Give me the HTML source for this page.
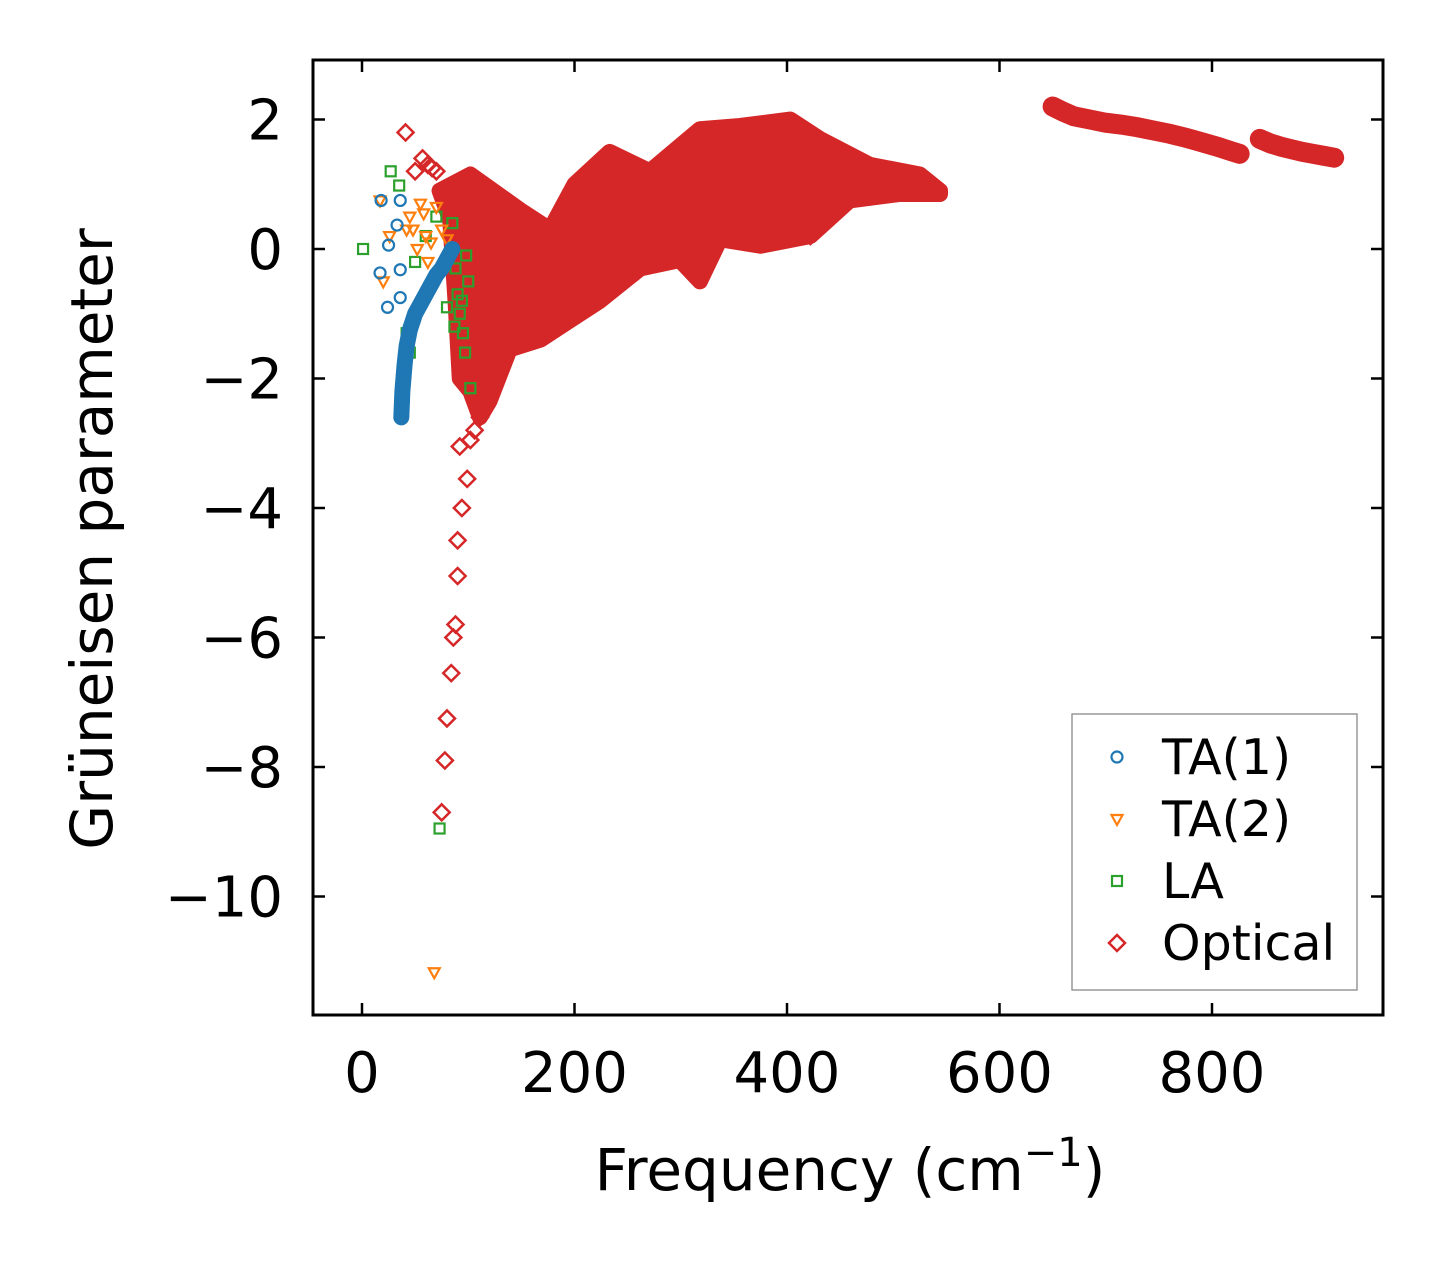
<!DOCTYPE html>
<html><head><meta charset="utf-8"><style>
body{margin:0;background:#fff}
svg text{font-family:"DejaVu Sans","Liberation Sans",sans-serif;fill:#000}
</style></head><body>
<svg id="chart" width="1443" height="1264" xmlns="http://www.w3.org/2000/svg">
<g id="marks"></g>
<g id="axes"></g>
</svg>
<script>
// ---- data ----
const xTicks=[0,200,400,600,800];
const yTicks=[2,0,-2,-4,-6,-8,-10];
const yTickLabels=["2","0","\u22122","\u22124","\u22126","\u22128","\u221210"];
// optical dense cloud envelope (freq, upper gamma, lower gamma)
const cloudUpF=[73,102,149,177,200,233,271,318,356,403,431,478,525,544];
const cloudUpG=[0.9,1.15,0.6,0.3,1.0,1.5,1.2,1.85,1.9,2.0,1.7,1.3,1.15,0.9];
const cloudLoF=[544,506,459,422,375,337,318,299,262,224,196,168,139,120,111,102,92,88,83];
const cloudLoG=[0.85,0.85,0.75,0.2,0.05,0.15,-0.5,-0.17,-0.3,-0.8,-1.1,-1.4,-1.55,-2.35,-2.6,-2.2,-2.0,-0.8,0.45];
// optical high-frequency bands
const band1F=[650,660,670,685,700,715,730,745,760,775,790,805,820,826];
const band1G=[2.2,2.12,2.05,2.0,1.95,1.92,1.88,1.83,1.78,1.72,1.65,1.58,1.5,1.47];
const band2F=[845,855,865,875,885,895,905,915];
const band2G=[1.7,1.63,1.58,1.54,1.5,1.47,1.44,1.41];
// optical sparse points
const optF=[41,57,50,62,66,70,92,102,99,94,90,90,88,86,84,80,78,75,111,106,115,125,420,422,470,318,250];
const optG=[1.8,1.4,1.2,1.3,1.25,1.2,-3.05,-2.95,-3.55,-4.0,-4.5,-5.05,-5.8,-6.0,-6.55,-7.25,-7.9,-8.7,-2.6,-2.8,-2.3,-2.0,1.8,0.2,1.3,-0.4,-0.3];
// TA(1)
const ta1F=[18,36,33,25,17,24,36,36,37,38,40,42,45,50,55,60,65,70,75,80,85,38,40,43];
const ta1G=[0.75,0.75,0.37,0.06,-0.37,-0.9,-0.75,-0.32,-2.6,-2.2,-1.8,-1.5,-1.25,-1.0,-0.85,-0.7,-0.55,-0.4,-0.3,-0.15,0.0,-2.35,-1.9,-1.4];
// TA(2)
const ta2F=[17,20,26,48,55,70,68,45,52,60,65,75,80,58,62,42];
const ta2G=[0.75,-0.5,0.2,0.3,0.7,0.65,-11.17,0.5,0.0,0.2,0.1,0.3,0.15,0.55,-0.2,0.3];
// LA
const laF=[1,27,35,73,102,97,95,92,90,88,85,100,98,94,80,87,45,50,60,70,42];
const laG=[0,1.2,0.98,-8.95,-2.15,-1.6,-1.3,-1.0,-0.7,-0.3,0.4,-0.5,-0.1,-0.8,-0.9,-1.2,-1.6,-0.2,0.2,0.5,-1.3];

// ---- axes mapping ----
const L=313,R=1383,T=60,B=1015;
const xs=f=>362+f*1.0625;
const ys=g=>249-g*64.75;
const NS="http://www.w3.org/2000/svg";
const marks=document.getElementById('marks'),axes=document.getElementById('axes');
function el(tag,attrs,parent){const e=document.createElementNS(NS,tag);for(const k in attrs)e.setAttribute(k,attrs[k]);parent.appendChild(e);return e;}

// cloud
let pts=cloudUpF.map((f,i)=>xs(f)+','+ys(cloudUpG[i])).concat(cloudLoF.map((f,i)=>xs(f)+','+ys(cloudLoG[i])));
const cloud=el('polygon',{points:pts.join(' '),fill:'#d62728',stroke:'#d62728','stroke-width':16,'stroke-linejoin':'round'},marks);



function diamond(f,g,name){const x=xs(f),y=ys(g),s=8;
 const d=el('polygon',{points:`${x},${y-s} ${x+s},${y} ${x},${y+s} ${x-s},${y}`,fill:'none',stroke:'#d62728','stroke-width':2.5},marks);
 
 }
function band(F,G,name){
 const p=el('polyline',{points:F.map((f,i)=>xs(f)+','+ys(G[i])).join(' '),fill:'none',stroke:'#d62728','stroke-width':20,'stroke-linecap':'round'},marks);
 
 
 F.forEach((f,i)=>diamond(f,G[i],'optical-point'));}
band(band1F,band1G,'optical-band-1');
band(band2F,band2G,'optical-band-2');
optF.forEach((f,i)=>diamond(f,optG[i],'optical-point'));

laF.forEach((f,i)=>{const x=xs(f),y=ys(laG[i]);
 const r=el('rect',{x:x-5,y:y-5,width:10,height:10,fill:'none',stroke:'#2ca02c','stroke-width':2.2},marks);
 
 });
ta2F.forEach((f,i)=>{const x=xs(f),y=ys(ta2G[i]);
 const p=el('polygon',{points:`${x-5.5},${y-4} ${x+5.5},${y-4} ${x},${y+6}`,fill:'none',stroke:'#ff7f0e','stroke-width':2.2},marks);
 
 });
// TA1 dense branch stroke
const dense=el('polyline',{points:ta1F.slice(8,21).map((f,i)=>xs(f)+','+ys(ta1G[i+8])).join(' '),fill:'none',stroke:'#1f77b4','stroke-width':16,'stroke-linecap':'round'},marks);


ta1F.forEach((f,i)=>{
 const c=el('circle',{cx:xs(f),cy:ys(ta1G[i]),r:5.5,fill:'none',stroke:'#1f77b4','stroke-width':2.2},marks);
 
 });

// frame
const fr=el('rect',{x:L,y:T,width:R-L,height:B-T,fill:'none',stroke:'#000','stroke-width':3},axes);


xTicks.forEach(v=>{const x=xs(v);
 el('line',{x1:x,x2:x,y1:B,y2:B-12,stroke:'#000','stroke-width':2.5},axes);
 el('line',{x1:x,x2:x,y1:T,y2:T+12,stroke:'#000','stroke-width':2.5},axes);
 const t=el('text',{x:x,y:B+77,'text-anchor':'middle','font-size':56},axes);t.textContent=v;
 
 });
yTicks.forEach((v,i)=>{const y=ys(v);
 el('line',{x1:L,x2:L+12,y1:y,y2:y,stroke:'#000','stroke-width':2.5},axes);
 el('line',{x1:R,x2:R-12,y1:y,y2:y,stroke:'#000','stroke-width':2.5},axes);
 const t=el('text',{x:L-30,y:y+20,'text-anchor':'end','font-size':56},axes);t.textContent=yTickLabels[i];
 
 });
</script>
<svg style="position:absolute;left:0;top:0" width="1443" height="1264" xmlns="http://www.w3.org/2000/svg">
<text x="850" y="1190" text-anchor="middle" font-size="58" font-family="DejaVu Sans, Liberation Sans, sans-serif">Frequency (cm<tspan dy="-24" font-size="40">−1</tspan><tspan dy="24">)</tspan></text>
<text transform="translate(112,539) rotate(-90)" text-anchor="middle" font-size="58" font-family="DejaVu Sans, Liberation Sans, sans-serif">Grüneisen parameter</text>
<g>
<rect x="1072" y="714" width="285" height="276" fill="#fff" stroke="#999" stroke-width="1.5"/>
<circle cx="1117" cy="757" r="5.5" fill="none" stroke="#1f77b4" stroke-width="2.2"/>
<text x="1162" y="774" font-size="49" font-family="DejaVu Sans, Liberation Sans, sans-serif">TA(1)</text>
<polygon points="1111.5,815 1122.5,815 1117,825" fill="none" stroke="#ff7f0e" stroke-width="2.2"/>
<text x="1162" y="836" font-size="49" font-family="DejaVu Sans, Liberation Sans, sans-serif">TA(2)</text>
<rect x="1112" y="876" width="10" height="10" fill="none" stroke="#2ca02c" stroke-width="2.2"/>
<text x="1162" y="898" font-size="49" font-family="DejaVu Sans, Liberation Sans, sans-serif">LA</text>
<polygon points="1117,935 1125,943 1117,951 1109,943" fill="none" stroke="#d62728" stroke-width="2.5"/>
<text x="1162" y="960" font-size="49" font-family="DejaVu Sans, Liberation Sans, sans-serif">Optical</text>
</g>
</svg>
</body></html>
